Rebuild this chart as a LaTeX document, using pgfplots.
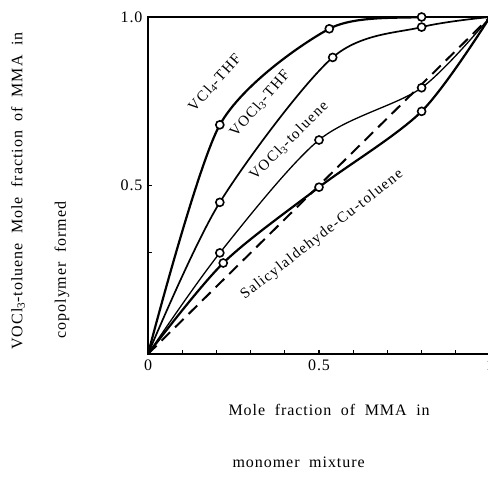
\documentclass[border=0pt]{standalone}
\usepackage{fontspec}
\setmainfont{Liberation Serif}[LetterSpace=6]
\newfontfamily\crvfont{Liberation Serif}[LetterSpace=9]
\usepackage{pgfplots}
\pgfplotsset{compat=1.18}

% label font: light tracking and generous word spaces
\newcommand\lbl{\fontsize{16bp}{18bp}\selectfont\spaceskip=0.6em plus 0.1em\relax}
\newcommand\crv{\crvfont\fontsize{15bp}{17bp}\selectfont\spaceskip=0.4em\relax}

\begin{document}
\begin{tikzpicture}[x=1bp,y=1bp]
\useasboundingbox (0,0) rectangle (488,482);
\begin{axis}[
  at={(148bp,128bp)}, anchor=south west,
  scale only axis, width=342bp, height=337bp,
  xmin=0, xmax=1, ymin=0, ymax=1,
  axis line style={line width=1.6bp},
  tick align=inside, xtick pos=bottom, ytick pos=left,
  xtick={0,0.5,1}, xticklabels={0,0.5,1},
  minor xtick={0.1,0.2,0.3,0.4,0.6,0.7,0.8,0.9},
  ytick={0.5,1}, yticklabels={0.5,1.0},
  minor ytick={0.3},
  major tick length=4bp, minor tick length=4bp,
  every tick/.style={line width=1.2bp, black},
  tick label style={font=\lbl},
  yticklabel style={xshift=-2bp},
  xticklabel style={yshift=-2bp},
  clip mode=individual,
  every axis plot/.append style={black},
  mark options={solid, fill=white, draw=black, line width=1.6bp},
  mark size=4bp,
]
% ideal (azeotropic) diagonal
\addplot[line width=2bp, dash pattern=on 12bp off 7bp] coordinates {(0,0) (1,1)};
% VCl4-THF
\addplot[line width=2.2bp, smooth, tension=0.45, mark=*, mark indices={2,3,4}]
  coordinates {(0,0) (0.21,0.68) (0.53,0.965) (0.80,1.00) (1,1)};
% VOCl3-THF
\addplot[line width=1.7bp, smooth, mark=*, mark indices={2,3,4}]
  coordinates {(0,0) (0.21,0.45) (0.54,0.88) (0.80,0.97) (1,1)};
% VOCl3-toluene
\addplot[line width=1.3bp, smooth, mark=*, mark indices={2,3,4}]
  coordinates {(0,0) (0.21,0.30) (0.50,0.635) (0.80,0.79) (1,1)};
% Salicylaldehyde-Cu-toluene
\addplot[line width=2.2bp, smooth, mark=*, mark indices={2,3,4}]
  coordinates {(0,0) (0.22,0.27) (0.50,0.495) (0.80,0.72) (1,1)};
\end{axis}

% curve labels
\node[rotate=48] at (215,399) {\crv VCl\textsubscript{4}-THF};
\node[rotate=49] at (260,378) {\crv VOCl\textsubscript{3}-THF};
\node[rotate=45] at (289,341) {\crv VOCl\textsubscript{3}-toluene};
\node[rotate=38] at (322,247) {\crv Salicylaldehyde-Cu-toluene};

% axis titles
\node[rotate=90] at (18,291) {\lbl VOCl\textsubscript{3}-toluene Mole fraction of MMA in};
\node[rotate=90] at (62,212) {\lbl copolymer formed};
\node[anchor=west] at (225,72) {\lbl Mole fraction of MMA in};
\node[anchor=west] at (229,20) {\lbl monomer mixture};
\end{tikzpicture}
\end{document}
